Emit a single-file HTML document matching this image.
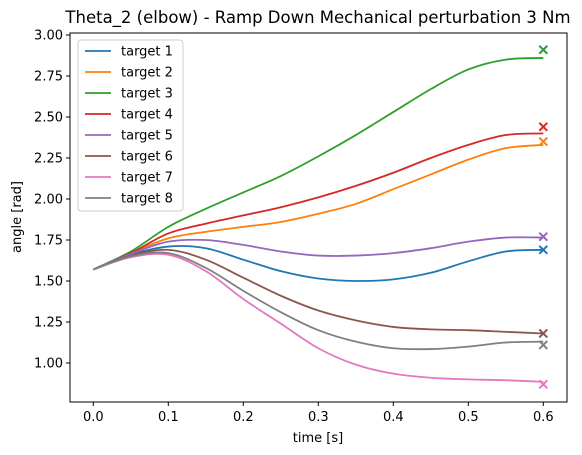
<!DOCTYPE html>
<html><head><meta charset="utf-8"><style>
html,body{margin:0;padding:0;background:#fff;}
svg{display:block;font-family:"DejaVu Sans","Liberation Sans",sans-serif;}
</style></head><body>
<svg id="chart" width="582" height="455"></svg>
<script>
const times = [0,0.05,0.1,0.15,0.2,0.25,0.3,0.35,0.4,0.45,0.5,0.55,0.6];
const seriesNames = ["target 1","target 2","target 3","target 4","target 5","target 6","target 7","target 8"];
const colors = ["#1f77b4","#ff7f0e","#2ca02c","#d62728","#9467bd","#8c564b","#e377c2","#7f7f7f"];
const t1 = [1.57,1.66,1.71,1.70,1.63,1.56,1.515,1.50,1.51,1.55,1.62,1.68,1.69];
const t2 = [1.57,1.67,1.76,1.80,1.83,1.86,1.91,1.97,2.06,2.15,2.24,2.31,2.33];
const t3 = [1.57,1.68,1.83,1.94,2.04,2.14,2.26,2.39,2.53,2.67,2.79,2.85,2.86];
const t4 = [1.57,1.67,1.79,1.85,1.90,1.95,2.01,2.08,2.16,2.25,2.33,2.39,2.40];
const t5 = [1.57,1.665,1.74,1.75,1.72,1.68,1.655,1.655,1.67,1.70,1.74,1.765,1.765];
const t6 = [1.57,1.655,1.69,1.63,1.52,1.41,1.32,1.26,1.22,1.205,1.20,1.19,1.18];
const t7 = [1.57,1.645,1.66,1.56,1.39,1.24,1.09,0.99,0.935,0.91,0.90,0.895,0.885];
const t8 = [1.57,1.65,1.67,1.58,1.44,1.31,1.20,1.13,1.09,1.085,1.10,1.125,1.13];
const targetTime = 0.6;
const targetValues = [1.69,2.35,2.91,2.44,1.77,1.18,0.87,1.11];
const xTicks = [0,0.1,0.2,0.3,0.4,0.5,0.6];
const xTickLabels = ["0.0","0.1","0.2","0.3","0.4","0.5","0.6"];
const yTicks = [1.0,1.25,1.5,1.75,2.0,2.25,2.5,2.75,3.0];
const yTickLabels = ["1.00","1.25","1.50","1.75","2.00","2.25","2.50","2.75","3.00"];

const allSeries=[t1,t2,t3,t4,t5,t6,t7,t8];
const L=70,R=567,T=33,B=402;
const X=t=>93.3+(t-0)*750;
const Y=v=>363-(v-1)*164;
const NS="http://www.w3.org/2000/svg";
const svg=document.getElementById('chart');
function mk(tag,attrs,parent){const e=document.createElementNS(NS,tag);for(const k in attrs)e.setAttribute(k,attrs[k]);(parent||svg).appendChild(e);return e;}

allSeries.forEach((s,i)=>{
  const pts=s.map((v,j)=>[X(times[j]),Y(v)]);
  let d="M"+pts[0][0]+","+pts[0][1];
  for(let j=0;j<pts.length-1;j++){
    const p0=pts[Math.max(j-1,0)],p1=pts[j],p2=pts[j+1],p3=pts[Math.min(j+2,pts.length-1)];
    const c1=[p1[0]+(p2[0]-p0[0])/6,p1[1]+(p2[1]-p0[1])/6];
    const c2=[p2[0]-(p3[0]-p1[0])/6,p2[1]-(p3[1]-p1[1])/6];
    d+=` C${c1[0]},${c1[1]} ${c2[0]},${c2[1]} ${p2[0]},${p2[1]}`;
  }
  const p=mk('path',{d:d,fill:'none',stroke:colors[i],'stroke-width':1.8});
  
  
  const mx=X(targetTime),my=Y(targetValues[i]);
  const g=mk('path',{d:`M${mx-4},${my-4}L${mx+4},${my+4}M${mx-4},${my+4}L${mx+4},${my-4}`,stroke:colors[i],'stroke-width':2});
  
  
});

const fr=mk('rect',{x:L,y:T,width:R-L,height:B-T,fill:'none',stroke:'#000','stroke-width':1});



xTicks.forEach((t,i)=>{
  mk('line',{x1:X(t),x2:X(t),y1:B,y2:B+4,stroke:'#000'});
  const tx=mk('text',{x:X(t),y:B+19,'text-anchor':'middle','font-size':13,fill:'#000'});
  tx.textContent=xTickLabels[i];
  
  
});
yTicks.forEach((v,i)=>{
  mk('line',{x1:L-4,x2:L,y1:Y(v),y2:Y(v),stroke:'#000'});
  const tx=mk('text',{x:L-7,y:Y(v)+4.5,'text-anchor':'end','font-size':13,fill:'#000'});
  tx.textContent=yTickLabels[i];
  
  
});

const lg=mk('g',{});


mk('rect',{x:78,y:40,width:105,height:171,rx:3,fill:'#fff','fill-opacity':0.8,stroke:'#ccc'},lg);
seriesNames.forEach((n,i)=>{
  const y=51+i*21;
  const e=mk('g',{},lg);
  
  
  mk('line',{x1:85,x2:111,y1:y,y2:y,stroke:colors[i],'stroke-width':1.8},e);
  const tx=mk('text',{x:121,y:y+4.5,'font-size':13,fill:'#000'},e);
  tx.textContent=n;
});

const t=mk('text',{x:318,y:23,'text-anchor':'middle','font-size':16.5});
t.textContent="Theta_2 (elbow) - Ramp Down Mechanical perturbation 3 Nm";


const xl=mk('text',{x:318,y:442,'text-anchor':'middle','font-size':13});
xl.textContent="time [s]";


const yl=mk('text',{transform:'translate(21,217) rotate(-90)','text-anchor':'middle','font-size':13});
yl.textContent="angle [rad]";


</script>
</body></html>
